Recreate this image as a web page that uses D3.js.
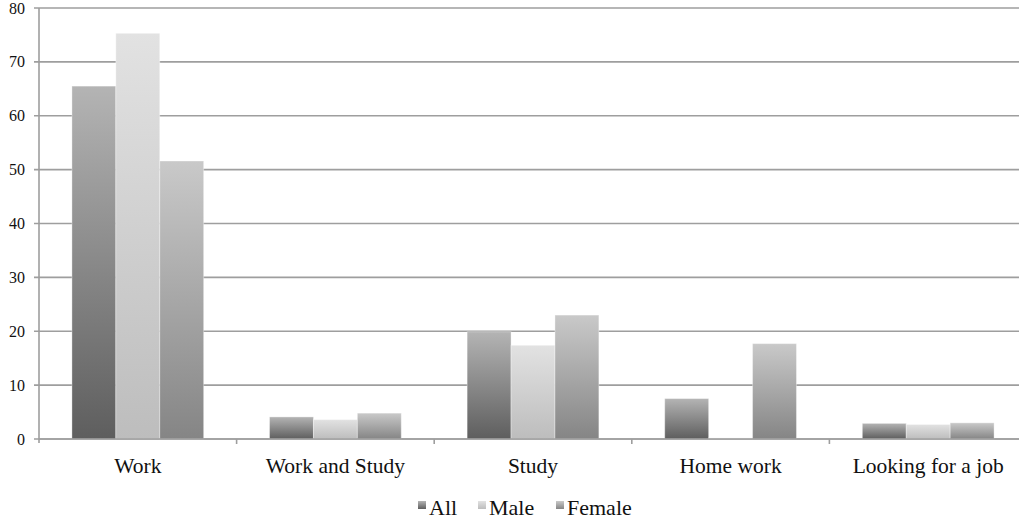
<!DOCTYPE html>
<html>
<head>
<meta charset="utf-8">
<script src="https://cdn.jsdelivr.net/npm/d3@7"></script>
<style>
  html, body { margin: 0; padding: 0; background: #fff; }
  svg { display: block; }
</style>
</head>
<body>
<svg id="chart" width="1019" height="522"></svg>
<script>
// Activity by group (percent)
const categories = ["Work", "Work and Study", "Study", "Home work", "Looking for a job"];
const seriesNames = ["All", "Male", "Female"];
const allValues = [65.5, 4.1, 19.9, 7.5, 2.9];
const maleValues = [75.3, 3.6, 17.4, 0.2, 2.7];
const femaleValues = [51.6, 4.8, 23.0, 17.7, 3.0];
const yTicks = [0, 10, 20, 30, 40, 50, 60, 70, 80];

const seriesValues = [allValues, maleValues, femaleValues];
const gradStops = [
  ["#5e5e5e", "#b4b4b4"],
  ["#bdbdbd", "#e2e2e2"],
  ["#858585", "#c9c9c9"]
];

// pick the first installed serif face
function pickFont(candidates) {
  const ctx = document.createElement("canvas").getContext("2d");
  const probe = "Work and Study 0123456789 Looking";
  ctx.font = "40px monospace";
  const base = ctx.measureText(probe).width;
  for (const f of candidates) {
    ctx.font = `40px "${f}", monospace`;
    if (Math.abs(ctx.measureText(probe).width - base) > 0.5) return `"${f}"`;
  }
  return "serif";
}
const serif = pickFont(["Liberation Serif", "Times New Roman", "Tinos", "DejaVu Serif", "Noto Serif", "FreeSerif", "Times"]) + ", serif";

const svg = d3.select("#chart")
  .attr("font-family", serif);
const plotLeft = 39, plotRight = 1027, plotTop = 8, plotBottom = 439;

const x = d3.scaleBand().domain(categories).range([plotLeft, plotRight]).paddingInner(0).paddingOuter(0);
// three bars fill the middle two thirds of each band
const xs = d3.scaleBand().domain(seriesNames).range([0, x.bandwidth()]).paddingInner(0).paddingOuter(0.75);
const y = d3.scaleLinear().domain([0, 80]).range([plotBottom, plotTop]);

const defs = svg.append("defs");
seriesNames.forEach((s, i) => {
  const g = defs.append("linearGradient")
    .attr("id", "grad" + i)
    .attr("x1", 0).attr("y1", 1).attr("x2", 0).attr("y2", 0);
  g.append("stop").attr("offset", "0%").attr("stop-color", gradStops[i][0]);
  g.append("stop").attr("offset", "100%").attr("stop-color", gradStops[i][1]);
});

// Horizontal gridlines
svg.append("g")
  .selectAll("line")
  .data(yTicks)
  .join("line")
  .attr("x1", plotLeft - 5)
  .attr("x2", 1019)
  .attr("y1", d => y(d))
  .attr("y2", d => y(d))
  .attr("stroke", "#9e9e9e")
  .attr("stroke-width", 1.6);

// Y tick labels
svg.append("g")
  .selectAll("text")
  .data(yTicks)
  .join("text")
  .attr("x", 25)
  .attr("y", d => y(d))
  .attr("dy", "0.35em")
  .attr("text-anchor", "end")
  .style("font-family", serif)
  .attr("font-size", 16)
  .attr("fill", "#111")
  .text(d => d);

// Bars
const groups = svg.append("g")
  .selectAll("g")
  .data(categories)
  .join("g")
  .attr("transform", d => `translate(${x(d)},0)`);

groups.selectAll("rect")
  .data((c, ci) => seriesNames.map((s, si) => ({ s, si, v: seriesValues[si][ci] })))
  .join("rect")
  .attr("x", d => xs(d.s))
  .attr("width", xs.bandwidth())
  .attr("y", d => y(d.v))
  .attr("height", d => y(0) - y(d.v))
  .attr("fill", d => `url(#grad${d.si})`)
  .attr("stroke", "rgba(255,255,255,0.35)")
  .attr("stroke-width", 1);

// Y axis line
svg.append("line")
  .attr("x1", plotLeft).attr("x2", plotLeft)
  .attr("y1", plotTop).attr("y2", plotBottom + 4)
  .attr("stroke", "#9e9e9e").attr("stroke-width", 1.6);

// Baseline and category ticks
svg.append("line")
  .attr("x1", plotLeft).attr("x2", 1019)
  .attr("y1", plotBottom).attr("y2", plotBottom)
  .attr("stroke", "#9e9e9e").attr("stroke-width", 1.6);

svg.append("g")
  .selectAll("line")
  .data(categories.slice(1))
  .join("line")
  .attr("x1", d => x(d)).attr("x2", d => x(d))
  .attr("y1", plotBottom).attr("y2", plotBottom + 5)
  .attr("stroke", "#9e9e9e").attr("stroke-width", 1.6);

// Category labels
svg.append("g")
  .selectAll("text")
  .data(categories)
  .join("text")
  .attr("x", d => x(d) + x.bandwidth() / 2)
  .attr("y", 473)
  .attr("text-anchor", "middle")
  .style("font-family", serif)
  .attr("font-size", 21.5)
  .attr("fill", "#111")
  .text(d => d);

// Legend
const legendX = [418, 478, 556];
const legend = svg.append("g")
  .selectAll("g")
  .data(seriesNames)
  .join("g")
  .attr("transform", (d, i) => `translate(${legendX[i]},515)`);

legend.append("rect")
  .attr("x", 0).attr("y", -14)
  .attr("width", 8).attr("height", 8)
  .attr("fill", (d, i) => `url(#grad${i})`);

legend.append("text")
  .attr("x", 11)
  .attr("y", 0)
  .style("font-family", serif)
  .attr("font-size", 22)
  .attr("fill", "#111")
  .text(d => d);
</script>
</body>
</html>
